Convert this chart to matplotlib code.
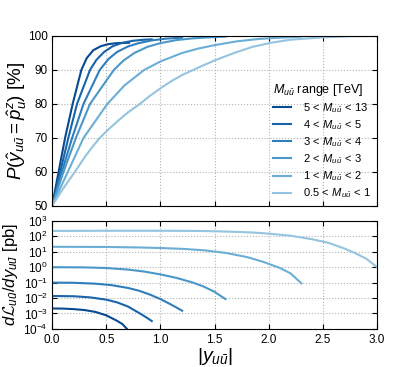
import matplotlib
matplotlib.use("Agg")
import matplotlib.pyplot as plt
import numpy as np

plt.rcParams['font.family'] = ['Liberation Sans', 'DejaVu Sans']
plt.rcParams['mathtext.fontset'] = 'custom'
plt.rcParams['mathtext.rm'] = 'Liberation Sans'
plt.rcParams['mathtext.it'] = 'Liberation Sans:italic'
plt.rcParams['mathtext.cal'] = 'cmsy10'

labels = [r'$5\,<\,M_{u\bar{u}}\,<\,13$', r'$4\,<\,M_{u\bar{u}}\,<\,5$',
          r'$3\,<\,M_{u\bar{u}}\,<\,4$', r'$2\,<\,M_{u\bar{u}}\,<\,3$',
          r'$1\,<\,M_{u\bar{u}}\,<\,2$', r'$0.5\,<\,M_{u\bar{u}}\,<\,1$']

# top panel: probability [%] vs |y|
p_x = [
    [0, 0.06, 0.12, 0.19, 0.27, 0.32, 0.38, 0.45, 0.52, 0.60, 0.71],
    [0, 0.075, 0.15, 0.23, 0.35, 0.41, 0.48, 0.56, 0.65, 0.75, 0.85, 0.92],
    [0, 0.09, 0.185, 0.29, 0.44, 0.52, 0.60, 0.70, 0.80, 0.92, 1.05, 1.20],
    [0, 0.105, 0.22, 0.35, 0.57, 0.66, 0.76, 0.88, 1.00, 1.15, 1.30, 1.45, 1.60],
    [0, 0.145, 0.29, 0.51, 0.67, 0.85, 1.00, 1.20, 1.35, 1.50, 1.70, 1.90, 2.10, 2.30],
    [0, 0.10, 0.21, 0.30, 0.37, 0.44, 0.52, 0.60, 0.70, 0.81, 0.90, 1.00, 1.10,
     1.20, 1.37, 1.50, 1.68, 1.85, 2.02, 2.20, 2.50, 2.75, 3.00],
]
p_y = [
    [50, 60, 70, 80, 90, 93.5, 95.8, 97, 97.6, 97.9, 98],
    [50, 60, 70, 80, 90, 93, 95.3, 97, 98, 98.6, 98.9, 99],
    [50, 60, 70, 80, 90, 93.2, 95.3, 96.9, 97.9, 98.7, 99.2, 99.5],
    [50, 60, 70, 80, 90, 92.8, 95, 96.8, 97.9, 98.8, 99.3, 99.6, 99.8],
    [50, 60, 70, 80, 85.5, 90, 92.5, 95, 96.3, 97.3, 98.4, 99.1, 99.5, 99.8],
    [50, 55, 60, 64.3, 67.3, 70, 72.5, 74.8, 77.5, 80, 82.3, 84.6, 86.7,
     88.5, 91, 92.8, 95, 96.8, 98, 98.9, 99.6, 99.9, 100],
]

# bottom panel: dL/dy [pb] vs |y|
l_x = [
    [0, 0.1, 0.2, 0.3, 0.4, 0.5, 0.6, 0.65, 0.69],
    [0, 0.2, 0.35, 0.5, 0.6, 0.7, 0.8, 0.87, 0.92],
    [0, 0.2, 0.4, 0.55, 0.7, 0.8, 0.9, 1.0, 1.1, 1.2],
    [0, 0.3, 0.5, 0.7, 0.85, 1.0, 1.15, 1.3, 1.4, 1.5, 1.6],
    [0, 0.5, 0.8, 1.0, 1.2, 1.4, 1.6, 1.8, 1.95, 2.1, 2.2, 2.3],
    [0, 0.5, 1.0, 1.3, 1.5, 1.7, 1.85, 2.0, 2.2, 2.4, 2.55, 2.7, 2.8, 2.9, 3.0],
]
l_y = [
    [2.1e-3, 2.05e-3, 1.9e-3, 1.65e-3, 1.25e-3, 7.5e-4, 3.3e-4, 2e-4, 1e-4],
    [0.0135, 0.013, 0.011, 0.0078, 0.0052, 0.0028, 1.1e-3, 5.5e-4, 3.2e-4],
    [0.1, 0.097, 0.085, 0.068, 0.045, 0.03, 0.017, 0.0085, 0.0037, 0.0015],
    [1.0, 0.97, 0.88, 0.7, 0.52, 0.34, 0.2, 0.1, 0.055, 0.025, 0.0085],
    [21, 20.5, 19, 17.5, 15.5, 12.5, 8.5, 4.5, 2.2, 0.9, 0.4, 0.09],
    [225, 230, 230, 225, 215, 195, 178, 150, 110, 65, 38, 16, 8, 3.5, 1.0],
]

colors = plt.cm.Blues(np.linspace(0.9, 0.4, 6))

fig = plt.figure(figsize=(4.2, 3.67), dpi=100)
ax1 = fig.add_axes([0.124, 0.439, 0.774, 0.463])
ax2 = fig.add_axes([0.124, 0.104, 0.774, 0.294])

for i in range(6):
    ax1.plot(p_x[i], p_y[i], color=colors[i], lw=1.5, label=labels[i])
    ax2.plot(l_x[i], l_y[i], color=colors[i], lw=1.5)

for ax in (ax1, ax2):
    ax.set_xlim(0, 3.0)
    ax.grid(True, ls=':', color='0.7', lw=0.8)
    ax.tick_params(direction='in', top=True, right=True, labelsize=8.5, pad=3)
    ax.tick_params(which='minor', direction='in', top=True, right=True)
ax2.tick_params(axis='x', pad=4)

ax1.set_ylim(50, 100)
ax1.set_yticks([50, 60, 70, 80, 90, 100])
ax1.set_xticks([0, 0.5, 1.0, 1.5, 2.0, 2.5, 3.0])
ax1.set_xticklabels([])
ax1.set_ylabel(r'$P(\hat{y}_{u\bar{u}} = \hat{p}_u^z)$ [%]', fontsize=13.5)

leg = ax1.legend(loc='upper left', bbox_to_anchor=(0.648, 0.79), frameon=False,
                 fontsize=8, handlelength=1.6, labelspacing=0.3,
                 handletextpad=1.1, title=r'$M_{u\bar{u}}$ range [TeV]',
                 title_fontsize=9)
leg._legend_box.align = 'left'

ax2.set_yscale('log')
ax2.set_ylim(1e-4, 1e3)
ax2.set_yticks([1e-4, 1e-3, 1e-2, 1e-1, 1e0, 1e1, 1e2, 1e3])
ax2.set_xticks([0, 0.5, 1.0, 1.5, 2.0, 2.5, 3.0])
ax2.set_xticklabels(['0.0', '0.5', '1.0', '1.5', '2.0', '2.5', '3.0'])
ax2.set_ylabel(r'$d\mathcal{L}_{u\bar{u}}/dy_{u\bar{u}}$ [pb]', fontsize=12)
ax2.set_xlabel(r'$|y_{u\bar{u}}|$', fontsize=14, labelpad=0)

ax1.yaxis.set_label_coords(-0.07, 0.5)
ax2.yaxis.set_label_coords(-0.10, 0.5)

plt.savefig('out.png', dpi=100)
